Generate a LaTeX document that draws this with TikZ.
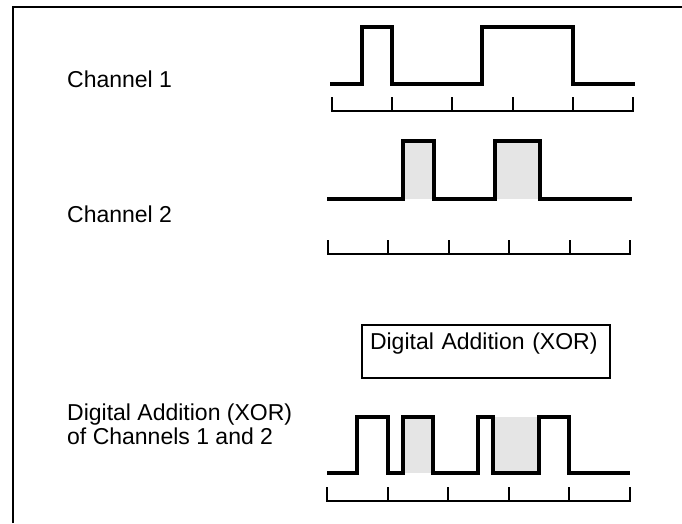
\documentclass[tikz,border=0pt]{standalone}
\usepackage{fontspec}
\setmainfont{Liberation Sans}
\usepackage{xcolor}
\definecolor{pulsegray}{gray}{0.9}
\def\tickrow#1#2#3{% left x, right x, baseline y
	\draw[tickline] (#1,#3-14)--(#1,#3)--(#2,#3)--(#2,#3-14);
	\foreach \k in {1,...,4}
		\draw[tickline] ({#1+(#2-#1)*\k/5},#3)--++(0,-14);
	}

\begin{document}
\begin{tikzpicture}[x=1pt,y=-1pt,
		wave/.style={line width=3.2pt},
		tickline/.style={line width=2pt},
		frame/.style={line width=2pt},
		every node/.style={font=\fontsize{23}{24}\selectfont,inner sep=0pt}]
	\useasboundingbox (0,0) rectangle (682,523);
	\draw[frame] (13,523)--(13,7)--(682,7);
	% channel 1
	\node[anchor=base west] (chone) at (67,87) {Channel 1};
	\draw[wave] (330,84)--(362,84)--(362,27)--(392,27)--(392,84)--(482,84)
		--(482,27)--(573,27)--(573,84)--(635,84);
	\tickrow{332}{633}{111}
	% channel 2
	\node[anchor=base west] (chtwo) at (67,222) {Channel 2};
	\fill[pulsegray] (403,141) rectangle (434,199);
	\fill[pulsegray] (495,141) rectangle (540,199);
	\draw[wave] (327,199)--(403,199)--(403,141)--(434,141)--(434,199)--(495,199)
		--(495,141)--(540,141)--(540,199)--(632,199);
	\tickrow{328}{630}{254}
	% operation
	\node[draw,line width=2pt,anchor=north west,inner xsep=8pt,inner ysep=7pt,
		text height=17pt,text depth=22pt,text width=232pt] (xorbox) at (361,324)
		{Digital Addition (XOR)};
	% result
	\node[anchor=base west,align=left] (xorsum) at (67,444)
		{Digital Addition (XOR)\\of Channels 1 and 2};
	\fill[pulsegray] (403,417) rectangle (433,473);
	\fill[pulsegray] (493,417) rectangle (539,473);
	\draw[wave] (327,473)--(357,473)--(357,417)--(388,417)--(388,473)--(403,473)
		--(403,417)--(433,417)--(433,473)--(478,473)--(478,417)--(493,417)
		--(493,473)--(539,473)--(539,417)--(569,417)--(569,473)--(630,473);
	\tickrow{327}{630}{501}
\end{tikzpicture}
\end{document}
